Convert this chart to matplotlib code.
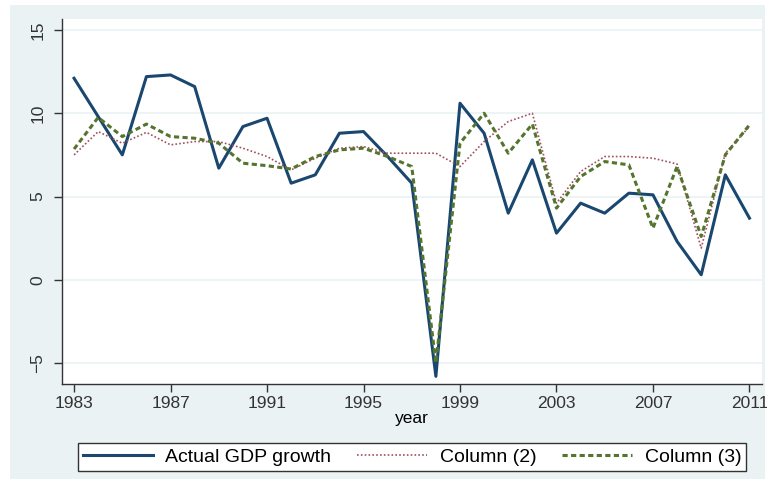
import matplotlib.pyplot as plt
from matplotlib.patches import Rectangle

plt.rcParams['font.family'] = ['Liberation Sans', 'DejaVu Sans']

# annual series
years = list(range(1983, 2012))
actual = [12.1, 9.8, 7.5, 12.2, 12.3, 11.6, 6.7, 9.2, 9.7, 5.8,
          6.3, 8.8, 8.9, 7.4, 5.8, -5.8, 10.6, 8.8, 4.0, 7.2,
          2.8, 4.6, 4.0, 5.2, 5.1, 2.3, 0.3, 6.3, 3.7]
col2 = [7.5, 8.9, 8.2, 8.85, 8.1, 8.3, 8.3, 7.9, 7.4, 6.6,
        7.3, 7.9, 8.0, 7.6, 7.6, 7.6, 6.8, 8.3, 9.5, 10.0,
        4.6, 6.5, 7.4, 7.4, 7.3, 6.95, 1.9, 7.6, 9.2]
col3 = [7.85, 9.75, 8.6, 9.35, 8.6, 8.5, 8.2, 7.0, 6.85, 6.65,
        7.4, 7.8, 7.9, 7.4, 6.8, -5.0, 8.2, 10.0, 7.6, 9.35,
        4.3, 6.2, 7.1, 6.9, 3.1, 6.8, 2.6, 7.5, 9.3]
xticks = [1983, 1987, 1991, 1995, 1999, 2003, 2007, 2011]
yticks = [-5, 0, 5, 10, 15]

W, H = 767, 479
bg = '#EAF2F3'

fig = plt.figure(figsize=(W / 100, H / 100), dpi=100, facecolor='white')
fig.patches.append(Rectangle((10 / W, 0), 755 / W, 474 / H, transform=fig.transFigure,
                             facecolor=bg, edgecolor='none', zorder=-5))

ax = fig.add_axes([62 / W, (H - 384) / H, 700 / W, 365 / H])
ax.set_zorder(2)
ax.set_facecolor('white')

ax.plot(years, actual, color='#1A476F', lw=2.2, label='Actual GDP growth')
ax.plot(years, col2, color='#A0505C', lw=1.2, linestyle=(0, (1, 1.3)), label='Column (2)')
ax.plot(years, col3, color='#55752F', lw=2.2, linestyle=(0, (1.7, 1.1)), label='Column (3)')

ax.set_xlim(1982.5, 2011.52)
ax.set_ylim(-6.26, 15.66)
ax.set_xticks(xticks)
ax.set_yticks(yticks)
ax.set_yticklabels([str(v).replace('-', '\u2212') for v in yticks], rotation=90, va='center')
ax.grid(axis='y', color=bg, lw=1.2)
ax.set_axisbelow(True)
ax.tick_params(labelsize=12.5, length=6, width=1, colors='#333333', pad=3)
ax.tick_params(axis='y', pad=6)
for s in ['top', 'right']:
    ax.spines[s].set_visible(False)
for s in ['left', 'bottom']:
    ax.spines[s].set_color('#333333')
    ax.spines[s].set_linewidth(1)
ax.set_xlabel('year', fontsize=12.5, labelpad=0)

handles, labels = ax.get_legend_handles_labels()
leg = fig.legend(handles, labels, ncol=3, mode='expand',
                 bbox_to_anchor=(68 / W, 6 / H, 688 / W, 32 / H), loc='center',
                 fontsize=14, handlelength=3.6, handletextpad=0.65,
                 frameon=True, fancybox=False, borderpad=0.25, framealpha=1)
leg.get_frame().set_facecolor('white')
leg.get_frame().set_edgecolor('#333333')
leg.get_frame().set_linewidth(1)
leg.set_zorder(3)

fig.savefig('out.png', dpi=100, facecolor=fig.get_facecolor())
